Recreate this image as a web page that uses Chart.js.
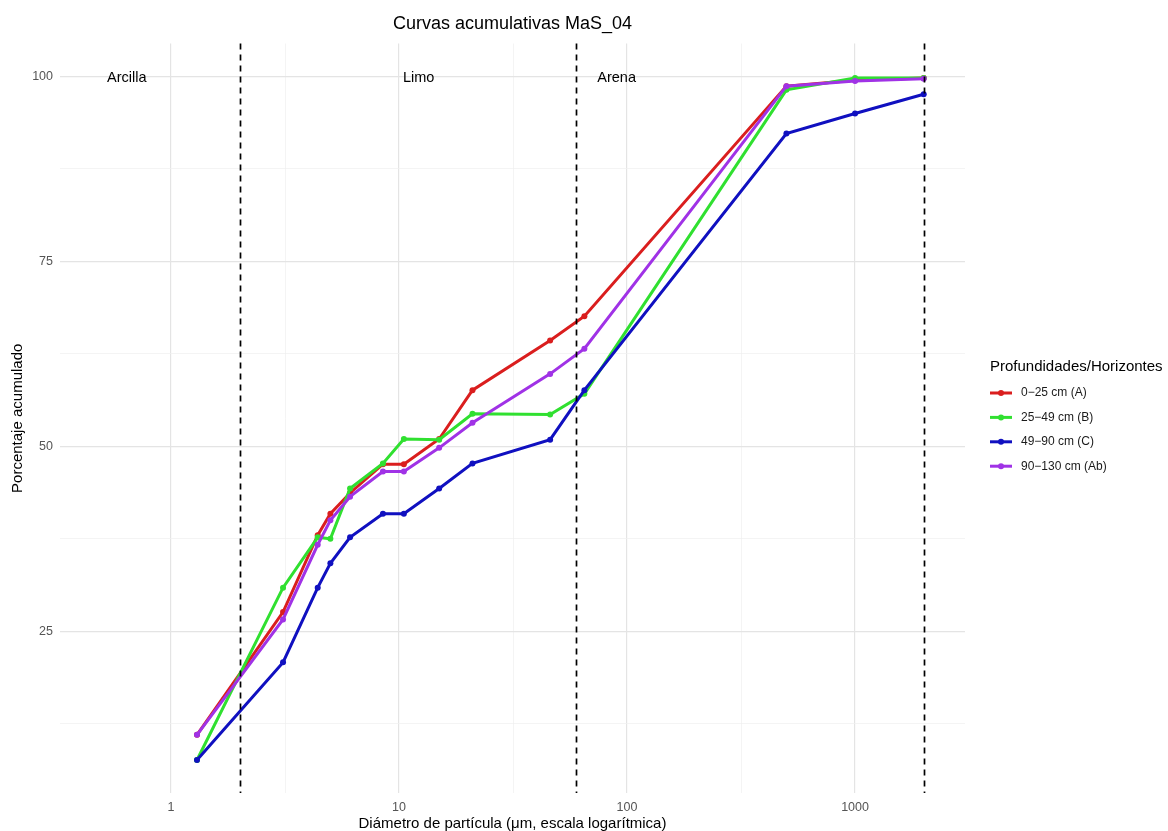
<!DOCTYPE html>
<html lang="es">
<head>
<meta charset="utf-8">
<title>Curvas acumulativas MaS_04</title>
<script src="https://cdn.jsdelivr.net/npm/chart.js@4/dist/chart.umd.min.js"></script>
<style>
  html, body { margin: 0; padding: 0; background: #ffffff; }
  #wrap { width: 1168px; height: 831px; }
</style>
</head>
<body>
<div id="wrap"><canvas id="curvas" width="1168" height="831"></canvas></div>
<script>
// Diámetros de partícula (µm) de cada fracción medida
const diametros = [1.3, 3.1, 4.4, 5, 6.1, 8.5, 10.5, 15, 21, 46, 65, 500, 1000, 2000];

// Porcentaje acumulado por horizonte
const horizonteA  = [11.0, 27.6, 38.0, 40.9, 43.7, 47.6, 47.6, 51.0, 57.6, 64.3, 67.6, 98.7, 99.5, 99.8];
const horizonteB  = [7.6, 30.9, 37.7, 37.5, 44.3, 47.7, 51.0, 50.9, 54.4, 54.3, 57.1, 98.2, 99.8, 99.8];
const horizonteC  = [7.6, 20.8, 30.9, 34.2, 37.7, 40.9, 40.9, 44.3, 47.7, 50.9, 57.6, 92.3, 95.0, 97.6];
const horizonteAb = [11.0, 26.6, 36.7, 40.0, 43.2, 46.6, 46.6, 49.8, 53.2, 59.8, 63.2, 98.7, 99.4, 99.7];

const nombresSeries = ['0\u221225 cm (A)', '25\u221249 cm (B)', '49\u221290 cm (C)', '90\u2212130 cm (Ab)'];
const coloresSeries = ['#DA1E1E', '#30E030', '#1010C0', '#A032E6'];

// Límites texturales (µm) y rótulos de clase
const limitesTextura = [2, 60, 2000];
const clasesTextura = ['Arcilla', 'Limo', 'Arena'];
const posicionClases = [0.64, 12.2, 90];

// Marcas de los ejes
const ticksX = [1, 10, 100, 1000];
const ticksXMenores = [3.1623, 31.623, 316.23];
const ticksY = [25, 50, 75, 100];
const ticksYMenores = [12.5, 37.5, 62.5, 87.5];

const FUENTE = '"Liberation Sans", Arial, Helvetica, sans-serif';
Chart.defaults.font.family = FUENTE;

const series = [horizonteA, horizonteB, horizonteC, horizonteAb];
const datasets = series.map((vals, i) => ({
  label: nombresSeries[i],
  data: diametros.map((d, j) => ({ x: d, y: vals[j] })),
  borderColor: coloresSeries[i],
  backgroundColor: coloresSeries[i],
  borderWidth: 3,
  pointRadius: 3,
  pointHoverRadius: 3,
  pointBorderWidth: 0,
  tension: 0,
  order: series.length - i
}));

const gridColor = (ctx) => (ctx.tick && ctx.tick.major) ? '#e4e4e4' : '#efefef';
const gridWidth = (ctx) => (ctx.tick && ctx.tick.major) ? 1.2 : 0.7;

// Líneas discontinuas de los límites y rótulos de clase
const limitesPlugin = {
  id: 'limites',
  afterDatasetsDraw(chart) {
    const { ctx, chartArea, scales } = chart;
    ctx.save();
    ctx.strokeStyle = '#000000';
    ctx.lineWidth = 1.7;
    ctx.setLineDash([6, 5]);
    limitesTextura.forEach(v => {
      const x = Math.round(scales.x.getPixelForValue(v)) + 0.5;
      ctx.beginPath();
      ctx.moveTo(x, chartArea.top);
      ctx.lineTo(x, chartArea.bottom);
      ctx.stroke();
    });
    ctx.setLineDash([]);
    ctx.fillStyle = '#000000';
    ctx.font = '14.5px ' + FUENTE;
    ctx.textAlign = 'center';
    ctx.textBaseline = 'middle';
    const yTxt = scales.y.getPixelForValue(100);
    clasesTextura.forEach((t, i) => {
      ctx.fillText(t, scales.x.getPixelForValue(posicionClases[i]), yTxt + 1);
    });
    ctx.restore();
  }
};

// Leyenda a la derecha del panel
const leyendaPlugin = {
  id: 'leyenda',
  afterDraw(chart) {
    const { ctx } = chart;
    ctx.save();
    ctx.fillStyle = '#000000';
    ctx.font = '15px ' + FUENTE;
    ctx.textAlign = 'left';
    ctx.textBaseline = 'middle';
    ctx.fillText('Profundidades/Horizontes', 990, 367);
    ctx.font = '12px ' + FUENTE;
    nombresSeries.forEach((n, i) => {
      const y = 393 + i * 24.4;
      ctx.strokeStyle = coloresSeries[i];
      ctx.fillStyle = coloresSeries[i];
      ctx.lineWidth = 3;
      ctx.beginPath();
      ctx.moveTo(990, y);
      ctx.lineTo(1012, y);
      ctx.stroke();
      ctx.beginPath();
      ctx.arc(1001, y, 3, 0, Math.PI * 2);
      ctx.fill();
      ctx.fillStyle = '#1a1a1a';
      ctx.fillText(n, 1021, y);
    });
    ctx.restore();
  }
};

new Chart(document.getElementById('curvas'), {
  type: 'line',
  data: { datasets },
  options: {
    responsive: false,
    animation: false,
    devicePixelRatio: 1,
    layout: { padding: { left: 0, right: 203, top: 0, bottom: 0 } },
    plugins: {
      legend: { display: false },
      tooltip: { enabled: false },
      title: {
        display: true,
        text: 'Curvas acumulativas MaS_04',
        fullSize: false,
        color: '#000000',
        font: { size: 18, weight: 'normal' },
        padding: { top: 13, bottom: 9 }
      }
    },
    scales: {
      x: {
        type: 'logarithmic',
        bounds: 'data',
        min: 0.326,
        max: 3035,
        afterBuildTicks: (s) => {
          s.ticks = ticksX.map(v => ({ value: v, major: true }))
            .concat(ticksXMenores.map(v => ({ value: v, major: false })))
            .sort((a, b) => a.value - b.value);
        },
        afterFit: (s) => { s.height = 38; },
        border: { display: false },
        grid: { color: gridColor, lineWidth: gridWidth, drawTicks: false },
        ticks: {
          autoSkip: false,
          maxRotation: 0,
          padding: 7,
          color: '#555555',
          font: { size: 12.5 },
          callback: (v) => ticksX.includes(v) ? String(v) : ''
        },
        title: {
          display: true,
          text: 'Diámetro de partícula (\u03bcm, escala logarítmica)',
          color: '#000000',
          font: { size: 15 },
          padding: { top: 0, bottom: -2 }
        }
      },
      y: {
        type: 'linear',
        bounds: 'data',
        min: 3.14,
        max: 104.45,
        afterBuildTicks: (s) => {
          s.ticks = ticksY.map(v => ({ value: v, major: true }))
            .concat(ticksYMenores.map(v => ({ value: v, major: false })))
            .sort((a, b) => a.value - b.value);
        },
        afterFit: (s) => { s.width = 60; },
        border: { display: false },
        grid: { color: gridColor, lineWidth: gridWidth, drawTicks: false },
        ticks: {
          autoSkip: false,
          padding: 7,
          color: '#555555',
          font: { size: 12.5 },
          callback: (v) => ticksY.includes(v) ? String(v) : ''
        },
        title: {
          display: true,
          text: 'Porcentaje acumulado',
          color: '#000000',
          font: { size: 15 },
          padding: { top: 9, bottom: 0 }
        }
      }
    }
  },
  plugins: [limitesPlugin, leyendaPlugin]
});
</script>
</body>
</html>
